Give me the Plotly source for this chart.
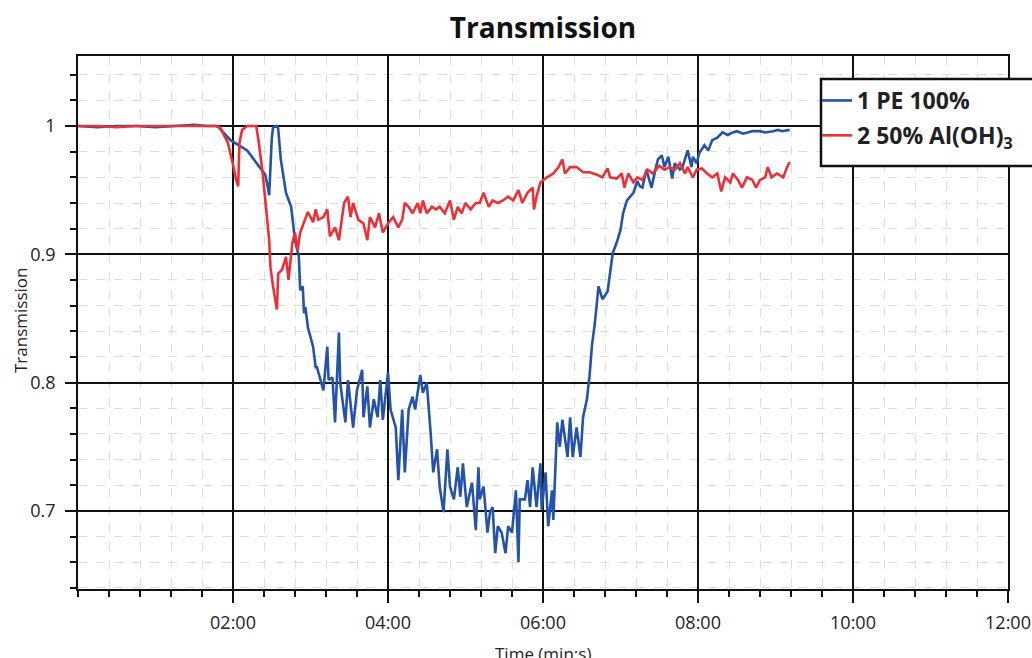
import plotly.graph_objects as go

# ---- data (time in seconds, transmission) ----
pe_time = [0, 15, 30, 45, 60, 75, 90, 100, 107, 109, 118, 131, 134, 141, 145, 147, 148,
           150, 151, 154, 155, 157, 161, 165, 168, 171, 172, 174, 175, 176, 178, 182,
           184, 185, 188, 190, 193, 194, 197, 199, 202, 203, 207, 209, 213, 216, 220, 221,
           224, 226, 229, 232, 234, 236, 240, 242, 246, 248, 251, 253, 256, 259, 261, 265,
           267, 270, 273, 275, 278, 280, 283, 286, 288, 291, 294, 296, 298, 301, 305, 308,
           310, 311, 314, 317, 319, 321, 323, 325, 328, 331, 333, 336, 339, 341, 342, 346,
           348, 350, 352, 355, 358, 359, 362, 364, 367, 368, 371, 373, 375, 379, 381, 383,
           386, 389, 391, 394, 396, 398, 400, 403, 406, 410, 412, 414, 417, 420, 422, 425,
           430, 433, 435, 437, 440, 444, 447, 449, 452, 454, 457, 460, 462, 466, 468, 472,
           475, 476, 479, 481, 485, 488, 491, 495, 499, 503, 507, 510, 515, 518, 522, 528,
           532, 538, 542, 545, 551]
pe_value = [1.000, 0.999, 1.000, 1.000, 0.999, 1.000, 1.001, 1.000, 1.000, 0.999, 0.989,
            0.981, 0.977, 0.968, 0.962, 0.952, 0.946, 0.990, 0.999, 1.000, 0.998, 0.974,
            0.948, 0.937, 0.911, 0.898, 0.872, 0.875, 0.854, 0.859, 0.843, 0.828,
            0.812, 0.812, 0.802, 0.794, 0.828, 0.802, 0.804, 0.769, 0.839, 0.800, 0.769,
            0.802, 0.765, 0.794, 0.810, 0.773, 0.797, 0.765, 0.787, 0.773, 0.802, 0.771,
            0.808, 0.779, 0.765, 0.724, 0.779, 0.730, 0.779, 0.789, 0.779, 0.806, 0.792,
            0.800, 0.761, 0.730, 0.748, 0.719, 0.699, 0.748, 0.719, 0.709, 0.734, 0.711,
            0.737, 0.703, 0.722, 0.685, 0.734, 0.709, 0.719, 0.683, 0.699, 0.703, 0.667,
            0.688, 0.683, 0.667, 0.688, 0.683, 0.716, 0.660, 0.709, 0.709, 0.724, 0.703,
            0.734, 0.703, 0.737, 0.701, 0.730, 0.688, 0.716, 0.693, 0.769, 0.750, 0.771,
            0.742, 0.773, 0.742, 0.765, 0.742, 0.773, 0.787, 0.805, 0.830, 0.845, 0.875,
            0.865, 0.871, 0.886, 0.901, 0.909, 0.919, 0.932, 0.942, 0.948, 0.957, 0.953,
            0.952, 0.966, 0.952, 0.966, 0.974, 0.977, 0.968, 0.976, 0.959, 0.971, 0.966,
            0.968, 0.981, 0.968, 0.976, 0.971, 0.979, 0.985, 0.981, 0.989, 0.991, 0.995,
            0.993, 0.995, 0.996, 0.994, 0.995, 0.996, 0.996, 0.995, 0.996, 0.997, 0.996,
            0.997]

al_time = [0, 15, 30, 45, 60, 75, 90, 100, 107, 110, 116, 120, 122, 124, 125, 127, 131,
           138, 140, 143, 145, 148, 149, 151, 154, 155, 158, 161, 163, 166, 168, 170, 172,
           176, 178, 182, 184, 186, 190, 193, 195, 199, 202, 206, 209, 211, 213, 217, 221,
           224, 226, 230, 233, 236, 240, 244, 248, 251, 253, 256, 259, 263, 265, 267, 270,
           274, 277, 280, 284, 288, 291, 294, 297, 300, 304, 308, 311, 314, 318, 321, 325,
           329, 333, 337, 341, 344, 348, 352, 353, 355, 358, 363, 368, 372, 375, 377, 381,
           386, 391, 396, 402, 406, 410, 412, 417, 421, 423, 426, 430, 433, 437, 441, 445,
           450, 454, 458, 462, 466, 470, 472, 476, 479, 483, 487, 491, 495, 498, 501, 505,
           507, 511, 514, 518, 522, 525, 528, 532, 534, 537, 541, 546, 549, 551]
al_value = [1.000, 1.000, 0.999, 1.000, 1.000, 1.000, 1.000, 1.000, 1.000, 0.999, 0.987,
            0.970, 0.960, 0.953, 0.987, 0.997, 1.000, 1.000, 0.987, 0.963, 0.942, 0.911,
            0.890, 0.875, 0.857, 0.885, 0.888, 0.898, 0.880, 0.909, 0.917, 0.903, 0.917,
            0.927, 0.933, 0.925, 0.935, 0.927, 0.929, 0.935, 0.914, 0.921, 0.911, 0.940,
            0.945, 0.929, 0.940, 0.927, 0.924, 0.911, 0.929, 0.921, 0.932, 0.917, 0.924,
            0.929, 0.921, 0.927, 0.940, 0.937, 0.932, 0.940, 0.932, 0.942, 0.932, 0.937,
            0.935, 0.937, 0.932, 0.942, 0.927, 0.937, 0.932, 0.940, 0.935, 0.940, 0.940,
            0.948, 0.937, 0.942, 0.940, 0.942, 0.945, 0.942, 0.950, 0.940, 0.948, 0.952,
            0.935, 0.945, 0.956, 0.960, 0.963, 0.968, 0.974, 0.963, 0.968, 0.968, 0.964,
            0.964, 0.962, 0.960, 0.967, 0.960, 0.959, 0.963, 0.952, 0.963, 0.956, 0.960,
            0.958, 0.966, 0.963, 0.969, 0.966, 0.968, 0.966, 0.971, 0.963, 0.968, 0.960,
            0.966, 0.967, 0.963, 0.960, 0.963, 0.949, 0.960, 0.956, 0.963, 0.958, 0.952,
            0.960, 0.958, 0.952, 0.958, 0.960, 0.968, 0.960, 0.963, 0.960, 0.968, 0.972]

series_names = ["1 PE 100%", "2 50% Al(OH)<sub>3</sub>"]
x_tick_vals = [120, 240, 360, 480, 600, 720]
x_tick_text = ["02:00", "04:00", "06:00", "08:00", "10:00", "12:00"]
y_tick_vals = [0.7, 0.8, 0.9, 1.0]
y_tick_text = ["0.7", "0.8", "0.9", "1"]

FONT = "Open Sans, Noto Sans, sans-serif"
BLUE = "#2553a8"
RED = "#ec3037"

fig = go.Figure()
fig.add_trace(go.Scatter(x=pe_time, y=pe_value, mode="lines", name=series_names[0],
                         legendgroup="a", line=dict(color=BLUE, width=2.6)))
fig.add_trace(go.Scatter(x=al_time, y=al_value, mode="lines", name=series_names[1],
                         legendgroup="b", line=dict(color=RED, width=2.6)))

W, H = 1032, 658
L, R, T, B = 78, 24, 56, 69
pw, ph = W - L - R, H - T - B

def px_x(px):
    return (px - L) / pw

def px_y(py):
    return (H - B - py) / ph

fig.update_layout(
    width=W, height=H,
    margin=dict(l=L, r=R, t=T, b=B, autoexpand=False),
    paper_bgcolor="white", plot_bgcolor="white",
    font=dict(family=FONT, color="#1e1e1e"),
    title=dict(text="Transmission", xref="container", x=543 / W, xanchor="center",
               y=1 - 28 / H, yanchor="middle",
               font=dict(size=28, weight="bold", color="#111", family=FONT)),
    showlegend=True,
    legend=dict(x=px_x(817), y=px_y(79), xanchor="left", yanchor="top",
                bgcolor="rgba(0,0,0,0)", borderwidth=0,
                font=dict(size=23, weight="bold", color="#222", family=FONT),
                tracegroupgap=2, itemwidth=30),
    xaxis=dict(range=[0, 720], tickvals=x_tick_vals, ticktext=x_tick_text,
               showgrid=True, gridcolor="#111", gridwidth=1.5,
               showline=True, linecolor="#111", linewidth=1.5, mirror=True,
               ticks="outside", ticklen=12, tickwidth=1.5, tickcolor="#111",
               zeroline=False, tickfont=dict(size=18, family=FONT, color="#222"),
               ticklabelstandoff=5,
               minor=dict(dtick=24, tick0=0, showgrid=True, gridcolor="#dddddd",
                          griddash="dash", gridwidth=1, ticks="outside", ticklen=6,
                          tickwidth=1.5, tickcolor="#111")),
    yaxis=dict(range=[0.6391, 1.0546], tickvals=y_tick_vals, ticktext=y_tick_text,
               showgrid=True, gridcolor="#111", gridwidth=1.5,
               showline=True, linecolor="#111", linewidth=1.5, mirror=True,
               ticks="outside", ticklen=11, tickwidth=1.5, tickcolor="#111",
               zeroline=False, tickfont=dict(size=18, family=FONT, color="#222"),
               ticklabelstandoff=6,
               minor=dict(dtick=0.02, tick0=0, showgrid=True, gridcolor="#dddddd",
                          griddash="dash", gridwidth=1, ticks="outside", ticklen=6,
                          tickwidth=1.5, tickcolor="#111")),
)

# legend frame (extends past the right edge, as in the original)
fig.add_shape(type="rect", xref="paper", yref="paper",
              x0=px_x(821), x1=px_x(1045), y0=px_y(166), y1=px_y(79),
              line=dict(color="#111", width=2.5), fillcolor="white", layer="above")

# axis titles
fig.add_annotation(text="Transmission", xref="paper", yref="paper",
                   x=px_x(20), y=px_y(321), textangle=-90, showarrow=False,
                   xanchor="center", yanchor="middle",
                   font=dict(size=17, family=FONT, color="#222"))
fig.add_annotation(text="Time (min:s)", xref="paper", yref="paper",
                   x=px_x(543), y=px_y(640), showarrow=False,
                   xanchor="center", yanchor="top",
                   font=dict(size=17, family=FONT, color="#222"))

fig.write_html("out.html", config={"displayModeBar": False},
               post_script="document.body.style.margin='0';")
